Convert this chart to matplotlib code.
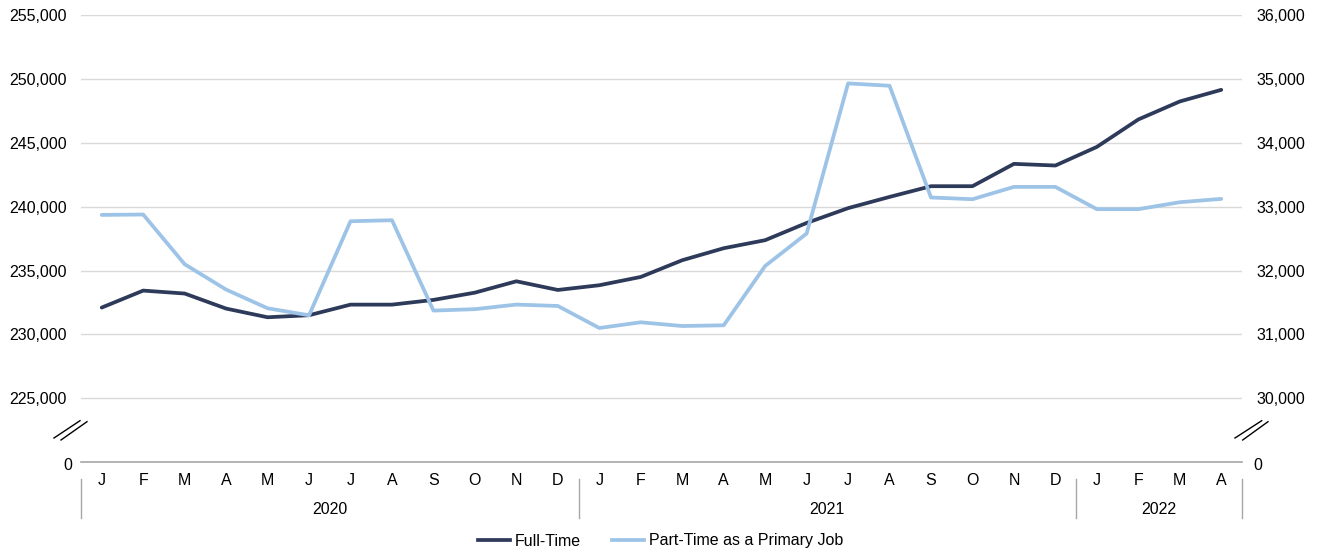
import matplotlib
matplotlib.use("Agg")
import matplotlib.pyplot as plt
from matplotlib.lines import Line2D
import matplotlib.transforms as mtransforms

plt.rcParams['font.family'] = ['Liberation Sans', 'DejaVu Sans']

months = ["J", "F", "M", "A", "M", "J", "J", "A", "S", "O", "N", "D",
          "J", "F", "M", "A", "M", "J", "J", "A", "S", "O", "N", "D",
          "J", "F", "M", "A"]
years = ["2020", "2021", "2022"]
year_counts = [12, 12, 4]

full_time = [232100, 233430, 233200, 232020, 231340, 231500, 232330, 232330,
             232700, 233270, 234160, 233480, 233850, 234500, 235810, 236750,
             237380, 238730, 239890, 240770, 241610, 241610, 243360, 243230,
             244690, 246840, 248250, 249160]
part_time = [32872, 32878, 32099, 31702, 31409, 31299, 32773, 32789,
             31373, 31395, 31467, 31445, 31100, 31189, 31131, 31142,
             32072, 32580, 34933, 34896, 33145, 33118, 33311, 33311,
             32962, 32962, 33071, 33123]

left_ticks = [225000, 230000, 235000, 240000, 245000, 250000, 255000]
right_ticks = [30000, 31000, 32000, 33000, 34000, 35000, 36000]

# broken axes: displayed "0" sits one tick step below the lowest tick
left_zero_pos = left_ticks[0] - (left_ticks[1] - left_ticks[0])
right_zero_pos = right_ticks[0] - (right_ticks[1] - right_ticks[0])

dark = "#2E3A59"
light = "#9DC3E6"
grid_c = "#D9D9D9"
axis_c = "#A6A6A6"
FS = 11.5

W, H = 1321, 557
fig = plt.figure(figsize=(W / 100, H / 100), dpi=100)
ax = fig.add_axes([81 / W, 1 - 462 / H, (1242 - 81) / W, (462 - 15.3) / H])
ax2 = ax.twinx()

x = list(range(len(months)))
ax.set_xlim(-0.5, len(months) - 0.5)
ax.set_ylim(left_zero_pos, left_ticks[-1])
ax2.set_ylim(right_zero_pos, right_ticks[-1])

for t in left_ticks:
    ax.axhline(t, color=grid_c, lw=1, zorder=0)

ax.plot(x, full_time, color=dark, lw=2.7, zorder=3, solid_capstyle='round')
ax2.plot(x, part_time, color=light, lw=2.7, zorder=3, solid_capstyle='round')

ax.set_yticks(left_ticks)
ax.set_yticklabels([f"{v:,}" for v in left_ticks])
ax2.set_yticks(right_ticks)
ax2.set_yticklabels([f"{v:,}" for v in right_ticks])
for a in (ax, ax2):
    a.tick_params(axis='y', length=0, labelsize=FS, colors="#000000", pad=10.5)
    for s in ("top", "left", "right"):
        a.spines[s].set_visible(False)
    a.spines["bottom"].set_color(axis_c)
    a.spines["bottom"].set_linewidth(1.2)
ax2.spines["bottom"].set_visible(False)
ax.set_xticks([])

# zero labels of the broken axes
fig.text(72 / W, 1 - 466 / H, "0", ha='right', va='center', fontsize=FS)
fig.text(1253 / W, 1 - 466 / H, "0", ha='left', va='center', fontsize=FS)

trans = mtransforms.blended_transform_factory(ax.transData, ax.transAxes)
for i, m in enumerate(months):
    ax.text(i, -0.041, m, transform=trans, ha='center', va='center', fontsize=FS)

pos = -0.5
bounds = [pos]
for yl, c in zip(years, year_counts):
    ax.text(pos + c / 2, -0.106, yl, transform=trans, ha='center', va='center', fontsize=FS)
    pos += c
    bounds.append(pos)
for b in bounds:
    ax.add_line(Line2D([b, b], [-0.038, -0.125], transform=trans, color=axis_c,
                       lw=1, clip_on=False))

# break marks
def px(xp, yp):
    return (xp / W, 1 - yp / H)

for (x0, y0, x1, y1) in [(54, 438, 80, 420.7), (61, 440, 87, 421.7),
                         (1235, 438, 1261.7, 420.7), (1242.7, 440, 1268, 421.7)]:
    a0, b0 = px(x0, y0)
    a1, b1 = px(x1, y1)
    fig.add_artist(Line2D([a0, a1], [b0, b1], transform=fig.transFigure, color="black", lw=1))

handles = [Line2D([], [], color=dark, lw=2.7), Line2D([], [], color=light, lw=2.7)]
fig.legend(handles, ["Full-Time", "Part-Time as a Primary Job"], loc='center',
           bbox_to_anchor=(0.5, 1 - 541 / H), ncol=2, frameon=False, fontsize=FS,
           handlelength=2.0, columnspacing=1.9, handletextpad=0.35)

fig.savefig("out.png", dpi=100)
